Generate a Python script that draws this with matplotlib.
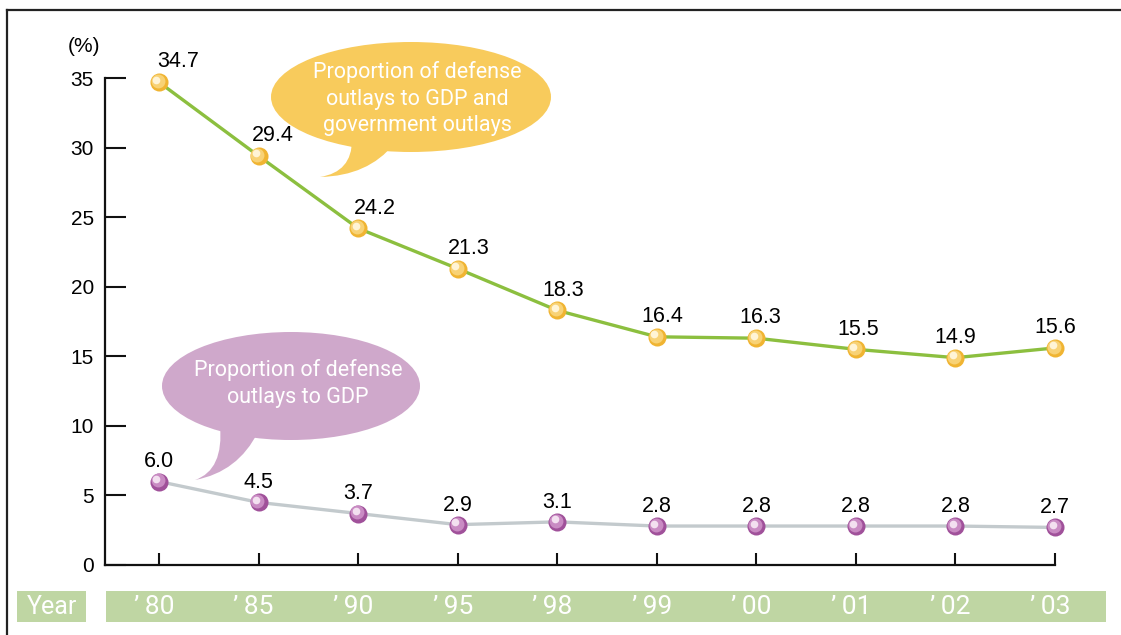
import matplotlib
matplotlib.use("Agg")
import matplotlib.pyplot as plt
import matplotlib.transforms as mtransforms
from matplotlib.patches import Ellipse, Rectangle, PathPatch
from matplotlib.path import Path
from matplotlib.lines import Line2D

# --- data ---
years = ["\u2019\u200980", "\u2019\u200985", "\u2019\u200990", "\u2019\u200995", "\u2019\u200998",
         "\u2019\u200999", "\u2019\u200900", "\u2019\u200901", "\u2019\u200902", "\u2019\u200903"]
gov_share = [34.7, 29.4, 24.2, 21.3, 18.3, 16.4, 16.3, 15.5, 14.9, 15.6]
gdp_share = [6.0, 4.5, 3.7, 2.9, 3.1, 2.8, 2.8, 2.8, 2.8, 2.7]
yticks = [0, 5, 10, 15, 20, 25, 30, 35]

W, H = 1121, 635
fig = plt.figure(figsize=(W / 100, H / 100), dpi=100)
fig.patch.set_facecolor("white")

# pixel coords (origin top-left) -> figure
px = mtransforms.Affine2D().scale(1 / W, -1 / H).translate(0, 1) + fig.transFigure

ax = fig.add_axes([105 / W, (H - 565) / H, (1055 - 105) / W, (565 - 78) / H])
ax.set_zorder(2)
ax.patch.set_visible(False)
ax.set_xlim(-0.542, 9.0)
ax.set_ylim(0, 35)
for s in ["top", "right"]:
    ax.spines[s].set_visible(False)
for s in ["left", "bottom"]:
    ax.spines[s].set_linewidth(1.6)
    ax.spines[s].set_color("#111111")

x = list(range(len(years)))
ax.set_xticks(x)
ax.set_xticklabels([])
ax.tick_params(axis="x", direction="in", length=9, width=1.5, color="#111111")
ax.set_yticks(yticks)
ax.set_yticklabels([str(v) for v in yticks], fontsize=15, family="Liberation Sans")
ax.tick_params(axis="y", direction="in", length=15, width=1.5, pad=8, color="#111111")
fig.text(84 / W, 1 - 47 / H, "(%)", ha="center", va="center", fontsize=15,
         family="Liberation Sans")


def sphere_markers(xs, ys, base, mid, hi):
    ax.plot(xs, ys, "o", ms=13, mfc=base, mec="none", zorder=5, clip_on=False)
    t1 = mtransforms.offset_copy(ax.transData, fig=fig, x=-0.8, y=0.8, units="points")
    ax.plot(xs, ys, "o", ms=10, mfc=mid, mec="none", zorder=6, clip_on=False, transform=t1)
    t2 = mtransforms.offset_copy(ax.transData, fig=fig, x=-1.8, y=1.8, units="points")
    ax.plot(xs, ys, "o", ms=5.5, mfc=hi, mec="none", zorder=7, clip_on=False, transform=t2)


ax.plot(x, gov_share, color="#8cbf3f", lw=2.4, zorder=3, clip_on=False)
ax.plot(x, gdp_share, color="#c3cacd", lw=2.4, zorder=3, clip_on=False)
sphere_markers(x, gov_share, "#f0b432", "#f8d275", "#fff4d6")
sphere_markers(x, gdp_share, "#a0519a", "#c98bc3", "#f3e0f0")

gov_dx = [14, 10, 12, 8, 4, 4, 3, 2, 0, 0]
for xi, v, dx in zip(x, gov_share, gov_dx):
    ax.annotate(f"{v:.1f}", (xi, v), xytext=(dx, 7), textcoords="offset points",
                ha="center", va="bottom", fontsize=15.5, family="Liberation Sans")
for xi, v in zip(x, gdp_share):
    ax.annotate(f"{v:.1f}", (xi, v), xytext=(0, 6.5), textcoords="offset points",
                ha="center", va="bottom", fontsize=15.5, family="Liberation Sans")

# --- speech bubbles ---
def bubble(cx, cy, w, h, tail, color):
    verts = tail + [tail[0]]
    codes = [Path.MOVETO, Path.CURVE3, Path.CURVE3, Path.CURVE3, Path.CURVE3, Path.CLOSEPOLY]
    fig.patches.append(PathPatch(Path(verts, codes), transform=px, fc=color, ec="none"))
    fig.patches.append(Ellipse((cx, cy), w, h, transform=px, fc=color, ec="none"))


bubble(411, 97, 280, 110,
       [(352, 140), (352, 172), (320, 177), (368, 176), (394, 144)], "#f8cb5c")
bubble(291, 386, 258, 108,
       [(220, 425), (224, 470), (195, 480), (238, 472), (258, 432)], "#cfa8cb")

for i, line in enumerate(["Proportion of defense", "outlays to GDP and", "government outlays"]):
    fig.text(417 / W, 1 - (72 + 27 * i) / H, line, ha="center", va="center",
             color="white", fontsize=15.5, family="Roboto")
for i, line in enumerate(["Proportion of defense", "outlays to GDP"]):
    fig.text(298 / W, 1 - (370 + 28 * i) / H, line, ha="center", va="center",
             color="white", fontsize=15.5, family="Roboto")

# --- year band ---
band = "#bfd6a3"
fig.patches.append(Rectangle((17, 591), 69, 31, transform=px, fc=band, ec="none"))
fig.patches.append(Rectangle((106, 591), 1000, 31, transform=px, fc=band, ec="none"))
fig.text(52 / W, 1 - 607 / H, "Year", ha="center", va="center", color="white",
         fontsize=18, family="Roboto")
yr_trans = mtransforms.blended_transform_factory(ax.transData, fig.transFigure)
for xi, lab in zip(x, years):
    fig.text(xi - 0.05, 1 - 607 / H, lab, transform=yr_trans, ha="center", va="center",
             color="white", fontsize=19, family=["Roboto", "DejaVu Sans"], zorder=5)

# --- outer frame (top and left) ---
fig.lines.append(Line2D([7, 1121], [10, 10], transform=px, color="#222222", lw=1.6))
fig.lines.append(Line2D([7, 7], [10, 635], transform=px, color="#222222", lw=1.6))

fig.savefig("out.png", dpi=100)
